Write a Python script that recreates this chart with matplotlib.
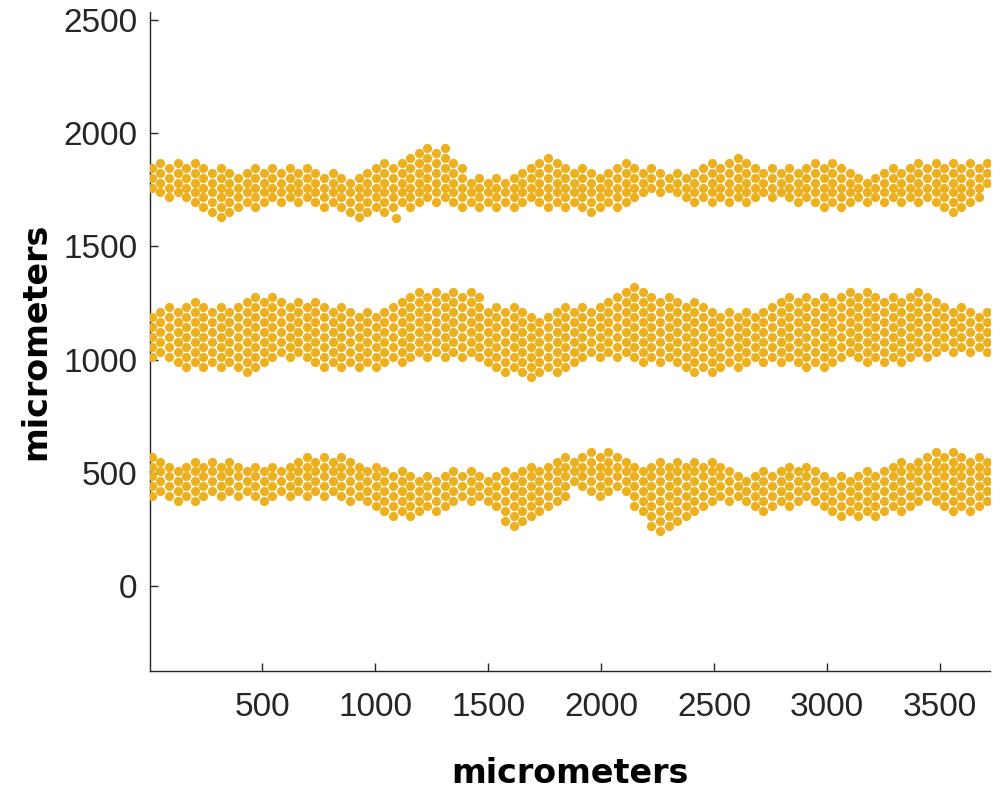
import numpy as np
import matplotlib
matplotlib.use('Agg')
import matplotlib.pyplot as plt

# ── palette ───────────────────────────────────────────────────────────────────
DOT_COLOR = '#EDB120'
AX_COLOR  = '#262626'

# ── data: band edges (dot centres, micrometers) ──────────────────────────────
x_edge = [0, 100, 200, 300, 400, 500, 600, 700, 800, 900,
          1000, 1100, 1200, 1300, 1400, 1500, 1600, 1700, 1800, 1900,
          2000, 2100, 2200, 2300, 2400, 2500, 2600, 2700, 2800, 2900,
          3000, 3100, 3200, 3300, 3400, 3500, 3600, 3700]

top_upper = [1864, 1868, 1864, 1837, 1818, 1852, 1840, 1857, 1818, 1801,
             1849, 1874, 1933, 1930, 1818, 1779, 1815, 1867, 1896, 1837,
             1818, 1879, 1845, 1818, 1827, 1860, 1911, 1852, 1838, 1852,
             1879, 1830, 1790, 1840, 1867, 1860, 1855, 1867]
top_lower = [1746, 1720, 1701, 1631, 1656, 1698, 1698, 1690, 1678, 1624,
             1646, 1683, 1687, 1709, 1678, 1668, 1680, 1690, 1683, 1665,
             1661, 1683, 1745, 1734, 1698, 1709, 1698, 1708, 1723, 1690,
             1665, 1686, 1705, 1705, 1709, 1668, 1661, 1757]

mid_upper = [1190, 1231, 1256, 1215, 1244, 1271, 1260, 1256, 1238, 1212,
             1209, 1268, 1288, 1281, 1304, 1234, 1234, 1187, 1204, 1246,
             1229, 1320, 1307, 1263, 1256, 1200, 1209, 1215, 1262, 1285,
             1262, 1300, 1293, 1263, 1307, 1249, 1219, 1197]
mid_lower = [1025, 994, 976, 983, 947, 991, 1032, 1006, 969, 969,
             979, 991, 1013, 1020, 1020, 973, 947, 932, 950, 1006,
             1020, 1028, 994, 988, 939, 961, 979, 1003, 995, 969,
             954, 1020, 994, 983, 1013, 1035, 1038, 1042]

bot_upper = [568, 527, 539, 549, 534, 520, 534, 579, 574, 554,
             520, 498, 490, 489, 505, 486, 495, 527, 549, 579,
             601, 542, 512, 557, 549, 537, 473, 498, 520, 520,
             480, 476, 502, 542, 557, 601, 586, 549]
bot_lower = [409, 387, 375, 409, 392, 384, 402, 387, 398, 387,
             358, 306, 336, 331, 383, 371, 270, 290, 387, 446,
             387, 424, 280, 235, 340, 380, 383, 333, 348, 372,
             336, 303, 306, 331, 380, 362, 328, 358]

# stray cells outside the bands
extra_x = [1092]
extra_y = [1627]

x_ticks = [500, 1000, 1500, 2000, 2500, 3000, 3500]
y_ticks = [0, 500, 1000, 1500, 2000, 2500]

# ── pack dots (hexagonal, cell spacing ~44 um) between each band's edges ─────
SPACING = 44.0
col_step = SPACING * np.sqrt(3) / 2
col_x = np.arange(12, 3712, col_step)
tol = SPACING * 0.35

px, py = [], []
for upper, lower in [(top_upper, top_lower), (mid_upper, mid_lower), (bot_upper, bot_lower)]:
    for i, cx in enumerate(col_x):
        hi = np.interp(cx, x_edge, upper)
        lo = np.interp(cx, x_edge, lower)
        off = (i % 2) * SPACING / 2
        j0 = int(np.ceil((lo - tol - off) / SPACING))
        j1 = int(np.floor((hi + tol - off) / SPACING))
        for j in range(j0, j1 + 1):
            px.append(cx)
            py.append(off + j * SPACING)
px += extra_x
py += extra_y

# ── figure ────────────────────────────────────────────────────────────────────
fig = plt.figure(figsize=(10.03, 7.93), dpi=100)
ax = fig.add_axes([150 / 1003, 122 / 793, 840 / 1003, 659 / 793])

ax.scatter(px, py, s=44, color=DOT_COLOR, linewidths=0, zorder=3)

ax.set_xlim(4, 3720)
ax.set_ylim(-375, 2535)
ax.set_xticks(x_ticks)
ax.set_yticks(y_ticks)

for side in ['top', 'right']:
    ax.spines[side].set_visible(False)
for side in ['left', 'bottom']:
    ax.spines[side].set_color(AX_COLOR)
    ax.spines[side].set_linewidth(1.0)
ax.tick_params(direction='in', length=6, width=1.0, colors=AX_COLOR,
               labelsize=24)
ax.tick_params(axis='x', pad=15)
ax.tick_params(axis='y', pad=9)
for t in ax.get_xticklabels() + ax.get_yticklabels():
    t.set_family(['Liberation Sans', 'DejaVu Sans'])

ax.set_xlabel('micrometers', fontsize=24, fontweight='bold', color='#000000')
ax.set_ylabel('micrometers', fontsize=24, fontweight='bold', color='#000000')
ax.xaxis.set_label_coords(0.5, -0.13)
ax.yaxis.set_label_coords(-0.116, 0.5)

fig.savefig('out.png', dpi=100, facecolor='white')
plt.close(fig)
